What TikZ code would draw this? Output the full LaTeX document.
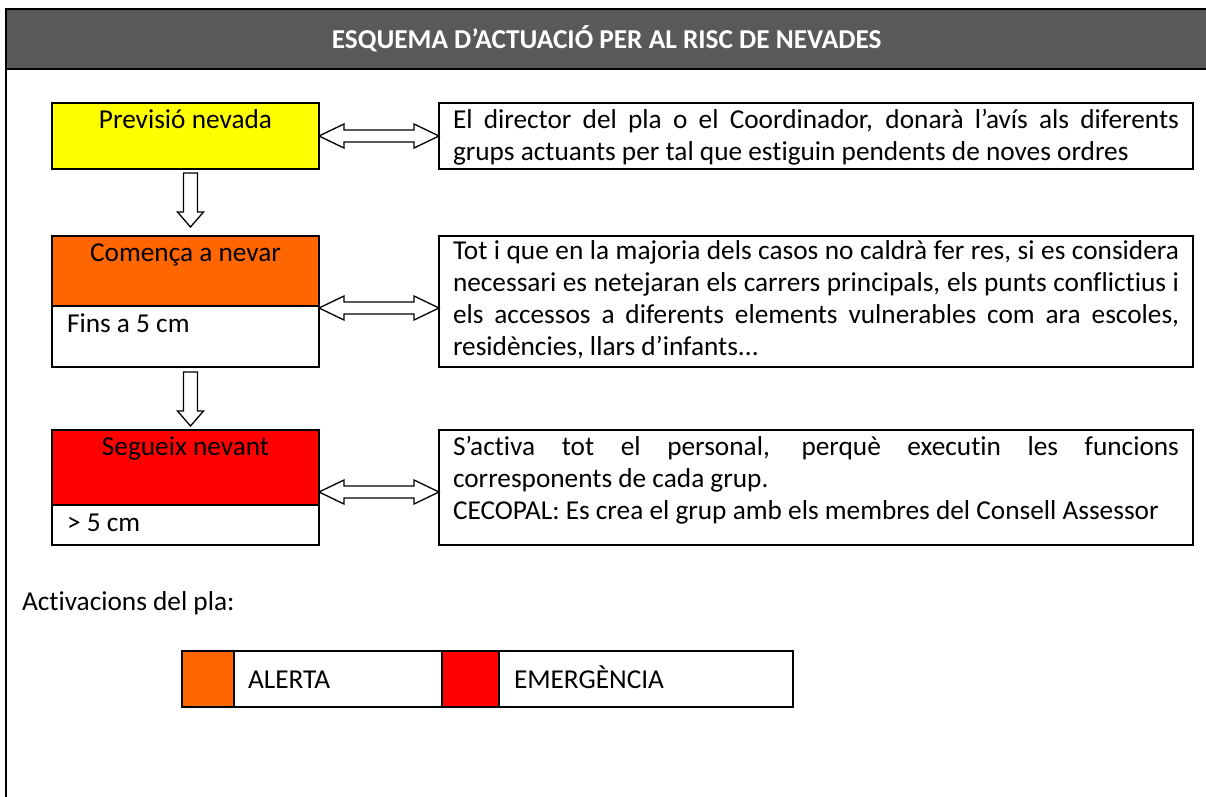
\documentclass[tikz,border=0pt]{standalone}
\usepackage{fontspec}
\setmainfont{Carlito}[Ligatures=NoCommon]
\usetikzlibrary{calc}
\definecolor{hdrgray}{HTML}{595959}
\definecolor{snowyel}{HTML}{FFFF00}
\definecolor{snoworg}{HTML}{FF6600}
\definecolor{snowred}{HTML}{FF0000}
\newcommand\fs{\fontsize{27.3}{32.2}\selectfont}
\newcommand\jl[1]{\makebox[726pt][s]{#1}}
\newcommand\blkdown[2]{%
  \draw[blk] ($(#1)+(-7,0)$) -- ($(#2)+(-7,-15)$) -- ($(#2)+(-13,-15)$) -- (#2)
    -- ($(#2)+(13,-15)$) -- ($(#2)+(7,-15)$) -- ($(#1)+(7,0)$) -- cycle;}
\newcommand\blkdouble[2]{%
  \draw[blk] (#1) -- ($(#1)+(25,-12)$) -- ($(#1)+(25,-6)$) -- ($(#2)+(-25,-6)$)
    -- ($(#2)+(-25,-12)$) -- (#2) -- ($(#2)+(-25,12)$) -- ($(#2)+(-25,6)$)
    -- ($(#1)+(25,6)$) -- ($(#1)+(25,12)$) -- cycle;}
\begin{document}
\begin{tikzpicture}[x=1pt,y=-1pt,
  box/.style={draw=black, line width=1.8pt, inner sep=0pt, outer sep=0pt, anchor=north west},
  txt/.style={inner sep=0pt, outer sep=0pt, font=\fs},
  blk/.style={draw=black, fill=white, line width=1.3pt, line join=miter},
  frame/.style={draw=black, line width=2pt}]
\useasboundingbox (0,0) rectangle (1206,796);
% header and frame
\node[box, fill=hdrgray, minimum width=1202pt, minimum height=60pt] (hdr) at (5.7,9) {};
\draw[frame] (hdr.south west) -- ++(0,800);
\node[txt, anchor=base, text=white, font=\fs\bfseries] (title) at ($(hdr.center)+(0,9)$) {ESQUEMA D’ACTUACIÓ PER AL RISC DE NEVADES};
% left boxes
\node[box, fill=snowyel, minimum width=267pt, minimum height=66pt] (prev) at (52,103) {};
\node[box, fill=snoworg, minimum width=267pt, minimum height=70pt] (com) at (52,236) {};
\node[box, minimum width=267pt, minimum height=61pt] (fins) at (52,306) {};
\node[box, fill=snowred, minimum width=267pt, minimum height=75pt] (seg) at (52,430) {};
\node[box, minimum width=267pt, minimum height=40pt] (gt) at (52,505) {};
% right boxes
\node[box, minimum width=754pt, minimum height=66pt] (t1) at (439,103) {};
\node[box, minimum width=754pt, minimum height=131pt] (t2) at (439,236) {};
\node[box, minimum width=754pt, minimum height=115pt] (t3) at (439,430) {};
% left labels
\node[txt, anchor=base] (l1) at ($(prev.north)+(0,25)$) {Previsió nevada};
\node[txt, anchor=base] (l2) at ($(com.north)+(0,25)$) {Comença a nevar};
\node[txt, anchor=base west] (l3) at ($(fins.north west)+(15,26)$) {Fins a 5 cm};
\node[txt, anchor=base] (l4) at ($(seg.north)+(0,25)$) {Segueix nevant};
\node[txt, anchor=base west] (l5) at ($(gt.north west)+(15,26)$) {> 5 cm};
% right texts
\node[txt, anchor=north west, align=left] (x1) at ($(t1.north west)+(14,2.5)$) {%
\strut\jl{El director del pla o el Coordinador, donarà l’avís als diferents}\\
grups actuants per tal que estiguin pendents de noves ordres};
\node[txt, anchor=north west, align=left] (x2) at ($(t2.north west)+(14,0.5)$) {%
\strut\jl{Tot i que en la majoria dels casos no caldrà fer res, si es considera}\\
\jl{necessari es netejaran els carrers principals, els punts conflictius i}\\
\jl{els accessos a diferents elements vulnerables com ara escoles,}\\
residències, llars d’infants...};
\node[txt, anchor=north west, align=left] (x3) at ($(t3.north west)+(14,2.5)$) {%
\strut\jl{S’activa tot el personal, perquè executin les funcions}\\
corresponents de cada grup.\\
CECOPAL: Es crea el grup amb els membres del Consell Assessor};
% arrows
\coordinate (d1s) at ($(prev.south)+(5,4)$);
\coordinate (d1e) at ($(d1s |- com.north)+(0,-9)$);
\coordinate (d2s) at ($(fins.south)+(5,5)$);
\coordinate (d2e) at ($(d2s |- seg.north)+(0,-4)$);
\blkdown{d1s}{d1e}
\blkdown{d2s}{d2e}
\coordinate (a1l) at (prev.east);
\coordinate (a1r) at (t1.west);
\coordinate (a2l) at ($(fins.north east)+(0,2)$);
\coordinate (a2r) at (a2l -| t2.west);
\coordinate (a3l) at ($(seg.south east)+(0,-13)$);
\coordinate (a3r) at (a3l -| t3.west);
\blkdouble{a1l}{a1r}
\blkdouble{a2l}{a2r}
\blkdouble{a3l}{a3r}
% activations
\node[txt, anchor=base west] (act) at (22,610) {Activacions del pla:};
\node[box, fill=snoworg, minimum width=52pt, minimum height=56pt] (lo) at (182,651) {};
\node[box, minimum width=208pt, minimum height=56pt] (la) at (234,651) {};
\node[box, fill=snowred, minimum width=57pt, minimum height=56pt] (lr) at (442,651) {};
\node[box, minimum width=294pt, minimum height=56pt] (le) at (499,651) {};
\node[txt, anchor=base west] (lat) at ($(la.west)+(14,9)$) {ALERTA};
\node[txt, anchor=base west] (let) at ($(le.west)+(15,9)$) {EMERGÈNCIA};
\end{tikzpicture}
\end{document}
